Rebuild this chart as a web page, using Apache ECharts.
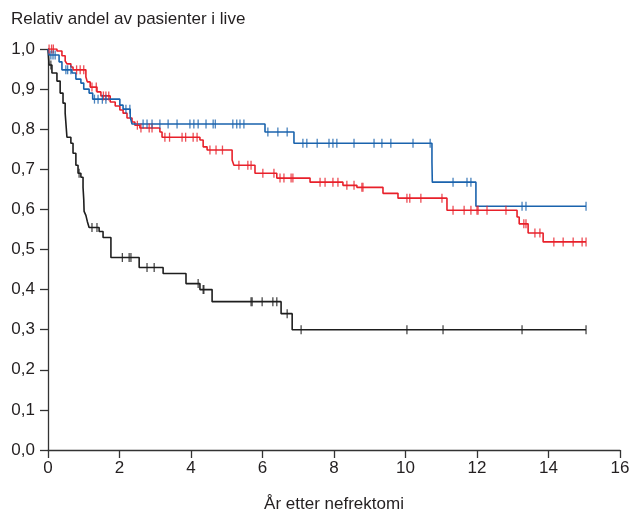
<!DOCTYPE html>
<html>
<head>
<meta charset="utf-8">
<script src="https://cdn.jsdelivr.net/npm/echarts@6/dist/echarts.min.js"></script>
<style>
  html, body { margin: 0; padding: 0; background: #fff; }
  #main { width: 632px; height: 517px; }
</style>
</head>
<body>
<div id="main"></div>
<script>
// x tick labels
var xTicks = [0, 2, 4, 6, 8, 10, 12, 14, 16];

// blue group: event times (years) and survival after each event
var blueTimes = [0, 0.03, 0.31, 0.39, 0.67, 0.78, 0.92, 1.0, 1.15, 1.25, 2.01, 2.1, 2.3, 2.35, 6.07, 6.88, 10.74, 10.75, 11.97];
var blueSurv  = [1.0, 0.985, 0.968, 0.948, 0.94, 0.925, 0.915, 0.9, 0.89, 0.875, 0.86, 0.85, 0.83, 0.813, 0.793, 0.765, 0.718, 0.668, 0.608];
var blueCens  = [0.08, 0.14, 0.2, 0.5, 0.55, 0.64, 1.3, 1.4, 1.52, 1.62, 2.18, 2.29,
  2.66, 2.77, 2.91, 3.13, 3.36, 3.61, 3.97, 4.08, 4.2, 4.42, 4.62, 4.68, 5.17, 5.28, 5.37, 5.48,
  6.15, 6.43, 6.69, 7.13, 7.24, 7.53, 7.86, 7.97, 8.08, 8.56, 9.12, 9.34, 9.59, 10.21, 10.69,
  11.33, 11.72, 11.83, 13.26, 13.37, 15.05];

// red group
var redTimes = [0, 0.25, 0.39, 0.48, 0.53, 0.64, 0.7, 1.06, 1.1, 1.18, 1.37, 1.48, 1.74, 1.88, 2.01, 2.1, 2.21, 2.35, 2.43, 2.57,
  3.13, 3.19, 4.25, 4.34, 4.45, 5.15, 5.2, 5.79, 6.4, 7.33, 8.25, 8.64, 9.37, 9.79, 11.16, 13.12, 13.18, 13.43, 13.85];
var redSurv  = [1.0, 0.995, 0.983, 0.97, 0.963, 0.955, 0.948, 0.93, 0.918, 0.905, 0.893, 0.883, 0.868, 0.858, 0.848, 0.84, 0.828, 0.818, 0.81, 0.803,
  0.793, 0.78, 0.773, 0.756, 0.748, 0.723, 0.71, 0.69, 0.678, 0.668, 0.66, 0.655, 0.64, 0.628, 0.598, 0.581, 0.564, 0.541, 0.519];
var redCens  = [0.03, 0.1, 0.15, 0.8, 0.9, 1.0, 1.23, 1.35, 1.55, 1.62, 1.7, 2.5, 2.6, 2.83, 2.91,
  3.27, 3.4, 3.75, 3.85, 4.06, 4.17, 4.53, 4.7, 4.88, 5.34, 5.59, 5.68, 6.01, 6.32, 6.49, 6.6, 6.8, 6.85,
  7.61, 7.75, 7.97, 8.11, 8.36, 8.56, 8.78, 8.81, 10.04, 10.12, 10.43, 11.02,
  11.33, 11.64, 11.83, 12.0, 12.03, 12.28, 12.81, 13.31, 13.37, 13.62, 13.76, 14.15, 14.41, 14.69, 14.94, 15.05];

// black group
var blackTimes = [0, 0.03, 0.11, 0.25, 0.34, 0.42, 0.48, 0.53, 0.64, 0.7, 0.78, 0.84, 0.92, 0.98, 1.0, 1.01, 1.06, 1.1, 1.15,
  1.43, 1.54, 1.76, 2.55, 3.22, 3.86, 4.25, 4.59, 6.52, 6.83];
var blackSurv  = [1.0, 0.96, 0.94, 0.92, 0.89, 0.865, 0.84, 0.78, 0.765, 0.74, 0.71, 0.69, 0.68, 0.655, 0.625, 0.595, 0.585, 0.57, 0.555,
  0.545, 0.53, 0.48, 0.455, 0.44, 0.415, 0.4, 0.37, 0.34, 0.3];
var blackCens  = [0.08, 0.87, 1.23, 1.37, 2.08, 2.27, 2.32, 2.77, 2.97, 4.2, 4.34, 4.36,
  5.68, 5.71, 5.99, 6.29, 6.4, 6.69, 7.08, 10.04, 11.05, 13.26, 15.05];

var blue = '#1a63ad', red = '#e8202a', black = '#1e1e1e';

function survAt(times, surv, t) {
  var s = 1;
  for (var i = 0; i < times.length; i++) { if (times[i] <= t) s = surv[i]; }
  return s;
}
function curve(times, surv, cens) {
  var pts = times.map(function (t, i) { return [t, surv[i]]; });
  var end = cens[cens.length - 1];
  pts.push([end, survAt(times, surv, end)]);
  return pts;
}
function ticks(times, surv, cens) {
  return cens.map(function (t) { return [t, survAt(times, surv, t)]; });
}

var font = '"Liberation Sans", Arial, Helvetica, sans-serif';
var txt = '#231f20';

function lineSeries(times, surv, cens, color) {
  return {
    type: 'line', step: 'end', symbol: 'none', z: 2,
    lineStyle: { color: color, width: 1.6 },
    data: curve(times, surv, cens)
  };
}
function censSeries(times, surv, cens, color) {
  return {
    type: 'scatter', symbol: 'rect', symbolSize: [1.3, 9], z: 3,
    itemStyle: { color: color },
    data: ticks(times, surv, cens)
  };
}

var chart = echarts.init(document.getElementById('main'));
chart.setOption({
  animation: false,
  backgroundColor: '#fff',
  textStyle: { fontFamily: font },
  title: {
    text: 'Relativ andel av pasienter i live',
    left: 11, top: 11, padding: 0,
    textStyle: { fontFamily: font, fontSize: 17, fontWeight: 'normal', color: txt }
  },
  grid: { left: 48, right: 12, top: 49, bottom: 67, containLabel: false, outerBoundsMode: 'none' },
  xAxis: {
    type: 'value', min: 0, max: 16, interval: 2,
    name: 'År etter nefrektomi', nameLocation: 'middle', nameGap: 46,
    nameTextStyle: { fontFamily: font, fontSize: 17, color: txt },
    axisLine: { lineStyle: { color: '#333', width: 1.3 } },
    axisTick: { show: true, length: 8, lineStyle: { color: '#333', width: 1.3 } },
    axisLabel: {
      fontFamily: font, fontSize: 17, color: txt, margin: 10,
      formatter: function (v) { return xTicks.indexOf(v) >= 0 ? String(v) : ''; }
    },
    splitLine: { show: false }
  },
  yAxis: {
    type: 'value', min: 0, max: 1, interval: 0.1,
    axisLine: { show: true, lineStyle: { color: '#333', width: 1.3 } },
    axisTick: { show: true, length: 8, lineStyle: { color: '#333', width: 1.3 } },
    axisLabel: {
      fontFamily: font, fontSize: 17, color: txt, margin: 13,
      formatter: function (v) { return v.toFixed(1).replace('.', ','); }
    },
    splitLine: { show: false }
  },
  series: [
    lineSeries(blackTimes, blackSurv, blackCens, black),
    lineSeries(redTimes, redSurv, redCens, red),
    lineSeries(blueTimes, blueSurv, blueCens, blue),
    censSeries(blackTimes, blackSurv, blackCens, black),
    censSeries(redTimes, redSurv, redCens, red),
    censSeries(blueTimes, blueSurv, blueCens, blue)
  ]
});
</script>
</body>
</html>
